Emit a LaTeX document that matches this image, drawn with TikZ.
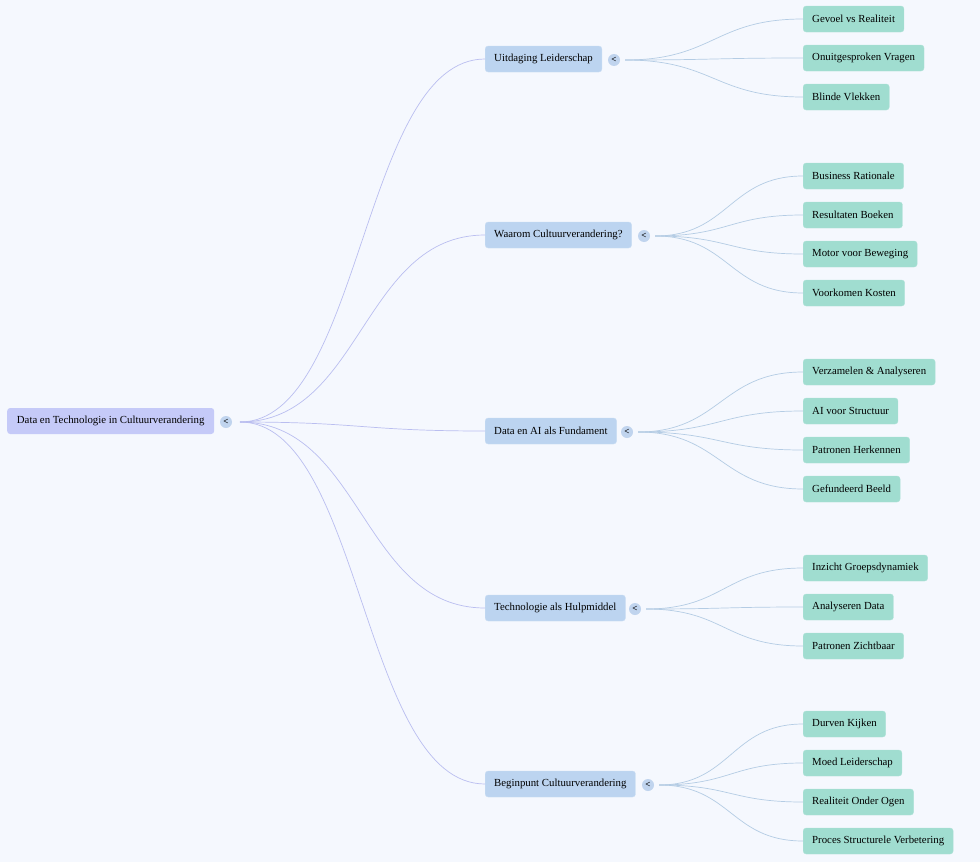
\documentclass[tikz,border=0pt]{standalone}
\usepackage{fontspec}
\setmainfont{Liberation Serif}
\begin{document}
\begin{tikzpicture}[x=1pt,y=-1pt,
 box/.style={anchor=west,rounded corners=3pt,minimum height=26pt,inner xsep=9pt,font=\fontsize{10.8}{12}\selectfont,text=black},
 rootbox/.style={box,fill=rootc,minimum width=207pt},
 midbox/.style={box,fill=midc,draw=midc!80!white},
 leafbox/.style={box,fill=leafc,draw=leafc!85!white},
 btn/.style={circle,fill=btnc,inner sep=0pt,minimum size=12pt,font=\fontsize{9}{9}\selectfont\bfseries},
 rl/.style={draw=rootl,line width=0.7pt},
 ml/.style={draw=midl,line width=0.7pt}]
\definecolor{bgc}{HTML}{F5F8FE}
\definecolor{rootc}{HTML}{C5CAF8}
\definecolor{midc}{HTML}{BCD4F0}
\definecolor{leafc}{HTML}{A0DDD0}
\definecolor{btnc}{HTML}{C0D4EE}
\definecolor{rootl}{HTML}{BABEF0}
\definecolor{midl}{HTML}{B4CCE4}
\fill[bgc] (0,0) rectangle (980,862);
\useasboundingbox (0,0) rectangle (980,862);
\node[rootbox] (root) at (7,421) {Data en Technologie in Cultuurverandering};
\node[btn] (rb) at (226,422) {<};
\coordinate (r0) at (240,422);
\foreach \n/\t/\y/\bx in {a/Uitdaging Leiderschap/59/614, b/Waarom Cultuurverandering?/235/644, c/Data en AI als Fundament/431/627, d/Technologie als Hulpmiddel/608/635, e/Beginpunt Cultuurverandering/784/648}{
 \node[midbox] (\n) at (485,\y) {\t};
 \node[btn] (\n b) at (\bx,\y+1) {<};
 \coordinate (\n 0) at (\bx+11,\y+1);
 \draw[rl] (r0) .. controls (362,422) and (362,\y) .. (\n.west);
}
\foreach \p/\sx/\sy/\n/\t/\y in {a/625/60/a1/Gevoel vs Realiteit/19, a/625/60/a2/Onuitgesproken Vragen/58, a/625/60/a3/Blinde Vlekken/97,
 b/655/236/b1/Business Rationale/176, b/655/236/b2/Resultaten Boeken/215, b/655/236/b3/Motor voor Beweging/254, b/655/236/b4/Voorkomen Kosten/293,
 c/638/432/c1/Verzamelen \& Analyseren/372, c/638/432/c2/AI voor Structuur/411, c/638/432/c3/Patronen Herkennen/450, c/638/432/c4/Gefundeerd Beeld/489,
 d/646/609/d1/Inzicht Groepsdynamiek/568, d/646/609/d2/Analyseren Data/607, d/646/609/d3/Patronen Zichtbaar/646,
 e/659/785/e1/Durven Kijken/724, e/659/785/e2/Moed Leiderschap/763, e/659/785/e3/Realiteit Onder Ogen/802, e/659/785/e4/Proces Structurele Verbetering/841}{
 \node[leafbox] (\n) at (803,\y) {\t};
 \pgfmathsetmacro\cx{(\sx+803)/2}
 \draw[ml] (\p 0) .. controls (\cx,\sy) and (\cx,\y) .. (\n.west);
}
\end{tikzpicture}
\end{document}
